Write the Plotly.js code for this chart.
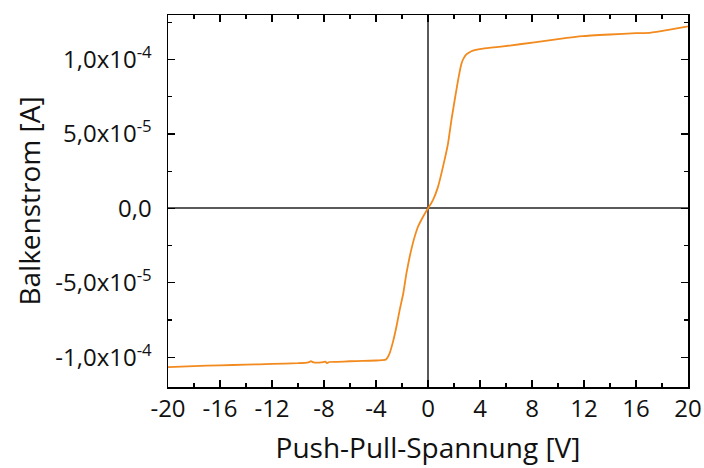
<!DOCTYPE html>
<html>
<head>
<meta charset="utf-8">
<script src="https://cdn.plot.ly/plotly-3.0.1.min.js"></script>
<style>html,body{margin:0;padding:0;background:#fff;}</style>
</head>
<body>
<div id="chart" style="width:704px;height:468px;"></div>
<script>
// Push-Pull voltage [V]
const voltage = [-20, -18, -16, -14, -12, -10, -9.2, -9.0, -8.8, -8.2, -7.9, -7.75, -7.6, -7.0, -6.0, -5.0, -4.0, -3.5, -3.25, -3.1, -2.95, -2.69, -2.43, -2.18, -1.90, -1.66, -1.41, -1.10, -0.77, -0.38, -0.08, 0.0, 0.38, 0.77, 1.15, 1.54, 1.80, 2.05, 2.31, 2.57, 2.75, 2.95, 3.2, 3.46, 4.23, 5.79, 8.33, 10.0, 11.9, 14.0, 16.0, 17.05, 18.6, 19.9, 20.0];
// Beam current [A]
const current = [-1.066e-4, -1.060e-4, -1.054e-4, -1.050e-4, -1.045e-4, -1.040e-4, -1.034e-4, -1.027e-4, -1.035e-4, -1.035e-4, -1.030e-4, -1.040e-4, -1.032e-4, -1.031e-4, -1.027e-4, -1.025e-4, -1.022e-4, -1.020e-4, -1.016e-4, -1.0e-4, -9.73e-5, -8.95e-5, -7.95e-5, -6.83e-5, -5.70e-5, -4.36e-5, -3.25e-5, -2.13e-5, -1.23e-5, -5.6e-6, -1.1e-6, 0.0, 5.6e-6, 1.45e-5, 2.79e-5, 4.36e-5, 5.93e-5, 7.27e-5, 8.61e-5, 9.73e-5, 1.01e-4, 1.035e-4, 1.05e-4, 1.060e-4, 1.074e-4, 1.089e-4, 1.118e-4, 1.138e-4, 1.158e-4, 1.169e-4, 1.178e-4, 1.180e-4, 1.201e-4, 1.222e-4, 1.224e-4];

const yTickVals = [-1e-4, -5e-5, 0, 5e-5, 1e-4];
const yTickText = ['-1,0x10<sup>-4</sup>', '-5,0x10<sup>-5</sup>', '0,0', '5,0x10<sup>-5</sup>', '1,0x10<sup>-4</sup>'];
const xTickVals = [-20, -16, -12, -8, -4, 0, 4, 8, 12, 16, 20];
const xTickText = ['-20', '-16', '-12', '-8', '-4', '0', '4', '8', '12', '16', '20'];

const font = 'Open Sans, Noto Sans, sans-serif';

Plotly.newPlot('chart', [{
  x: voltage, y: current, type: 'scatter', mode: 'lines',
  line: {color: '#f28a1e', width: 1.8, shape: 'spline', smoothing: 0.4}, hoverinfo: 'skip'
}], {
  width: 704, height: 468,
  margin: {l: 168, r: 16, t: 15, b: 81},
  paper_bgcolor: '#fff', plot_bgcolor: '#fff',
  showlegend: false,
  xaxis: {
    range: [-20, 20], tickvals: xTickVals, ticktext: xTickText,
    ticks: 'inside', ticklen: 7, tickwidth: 1.2, tickcolor: '#000',
    minor: {dtick: 2, tick0: 0, ticks: 'inside', ticklen: 4, tickwidth: 1.2, tickcolor: '#000', showgrid: false},
    showline: true, linecolor: '#000', linewidth: 1.5, mirror: 'ticks',
    showgrid: false, zeroline: true, zerolinecolor: '#5a5a5a', zerolinewidth: 2,
    tickfont: {family: font, size: 24, color: '#111'},
    title: {text: 'Push-Pull-Spannung [V]', font: {family: font, size: 28, color: '#111'}, standoff: 15}
  },
  yaxis: {
    range: [-1.2e-4, 1.3e-4], tickvals: yTickVals, ticktext: yTickText,
    ticks: 'inside', ticklen: 7, tickwidth: 1.2, tickcolor: '#000',
    minor: {dtick: 2.5e-5, tick0: 0, ticks: 'inside', ticklen: 4, tickwidth: 1.2, tickcolor: '#000', showgrid: false},
    showline: true, linecolor: '#000', linewidth: 1.5, mirror: 'ticks',
    showgrid: false, zeroline: true, zerolinecolor: '#5a5a5a', zerolinewidth: 2,
    tickfont: {family: font, size: 24, color: '#111'},
    ticklabelstandoff: 10,
    title: {text: 'Balkenstrom [A]', font: {family: font, size: 28, color: '#111'}, standoff: 6}
  }
}, {staticPlot: true, displayModeBar: false});
</script>
</body>
</html>
